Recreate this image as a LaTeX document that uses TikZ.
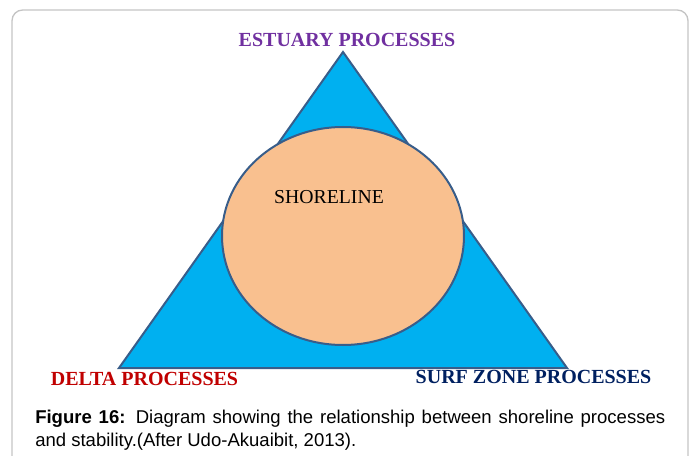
\documentclass[tikz,border=0pt]{standalone}
\usepackage{fontspec}
\setmainfont{Liberation Serif}
\newfontfamily\capfont{Liberation Sans}
\usetikzlibrary{positioning,shapes.geometric}
\definecolor{shTri}    {HTML}{00B0F0}
\definecolor{shEdge}   {HTML}{385D8A}
\definecolor{shSand}   {HTML}{F9C08F}
\definecolor{shPurple} {HTML}{7030A0}
\definecolor{shRed}    {HTML}{C00000}
\definecolor{shNavy}   {HTML}{002060}
\definecolor{shFrame}  {HTML}{C4C4C4}

\begin{document}
\begin{tikzpicture}[x=0.75pt,y=-0.75pt,
      lbl/.style={font=\fontsize{15}{18}\selectfont\bfseries,anchor=base,inner sep=0pt},
      capline/.style={font=\capfont\fontsize{13.9}{17}\selectfont,anchor=base west,inner sep=0pt}]
    \useasboundingbox (0,0) rectangle (696,456);
    \clip (0,0) rectangle (696,456);
    % page frame
    \draw[shFrame,line width=1pt,rounded corners=8pt] (12,10) rectangle (688,480);
    % triangle of processes
    \coordinate (top) at (343,52);
    \coordinate (bl)  at (119,368);
    \coordinate (br)  at (567,368);
    \draw[shEdge,line width=1.5pt,fill=shTri,line join=miter] (top) -- (br) -- (bl) -- cycle;
    \node[ellipse,draw=shEdge,line width=1.5pt,fill=shSand,
          minimum width=181.5pt,minimum height=163.5pt,inner sep=0pt] (shore) at (343,236) {};
    \node[font=\fontsize{14.8}{18}\selectfont,anchor=base,inner sep=0pt] (sl) at (329,204) {SHORELINE};
    % corner labels
    \node[lbl,text=shPurple] (est)  at (347,47)  {ESTUARY PROCESSES};
    \node[lbl,text=shRed]    (dlt)  at (144.5,385) {DELTA PROCESSES};
    \node[lbl,text=shNavy]   (surf) at (533.5,383) {SURF ZONE PROCESSES};
    % caption
    \node[capline] (cap1) at (35,423) {\makebox[472.5pt][s]{\textbf{Figure 16:} Diagram showing the relationship between shoreline processes}};
    \node[capline] (cap2) at (35,446) {and stability.(After Udo-Akuaibit, 2013).};
  \end{tikzpicture}
\end{document}
